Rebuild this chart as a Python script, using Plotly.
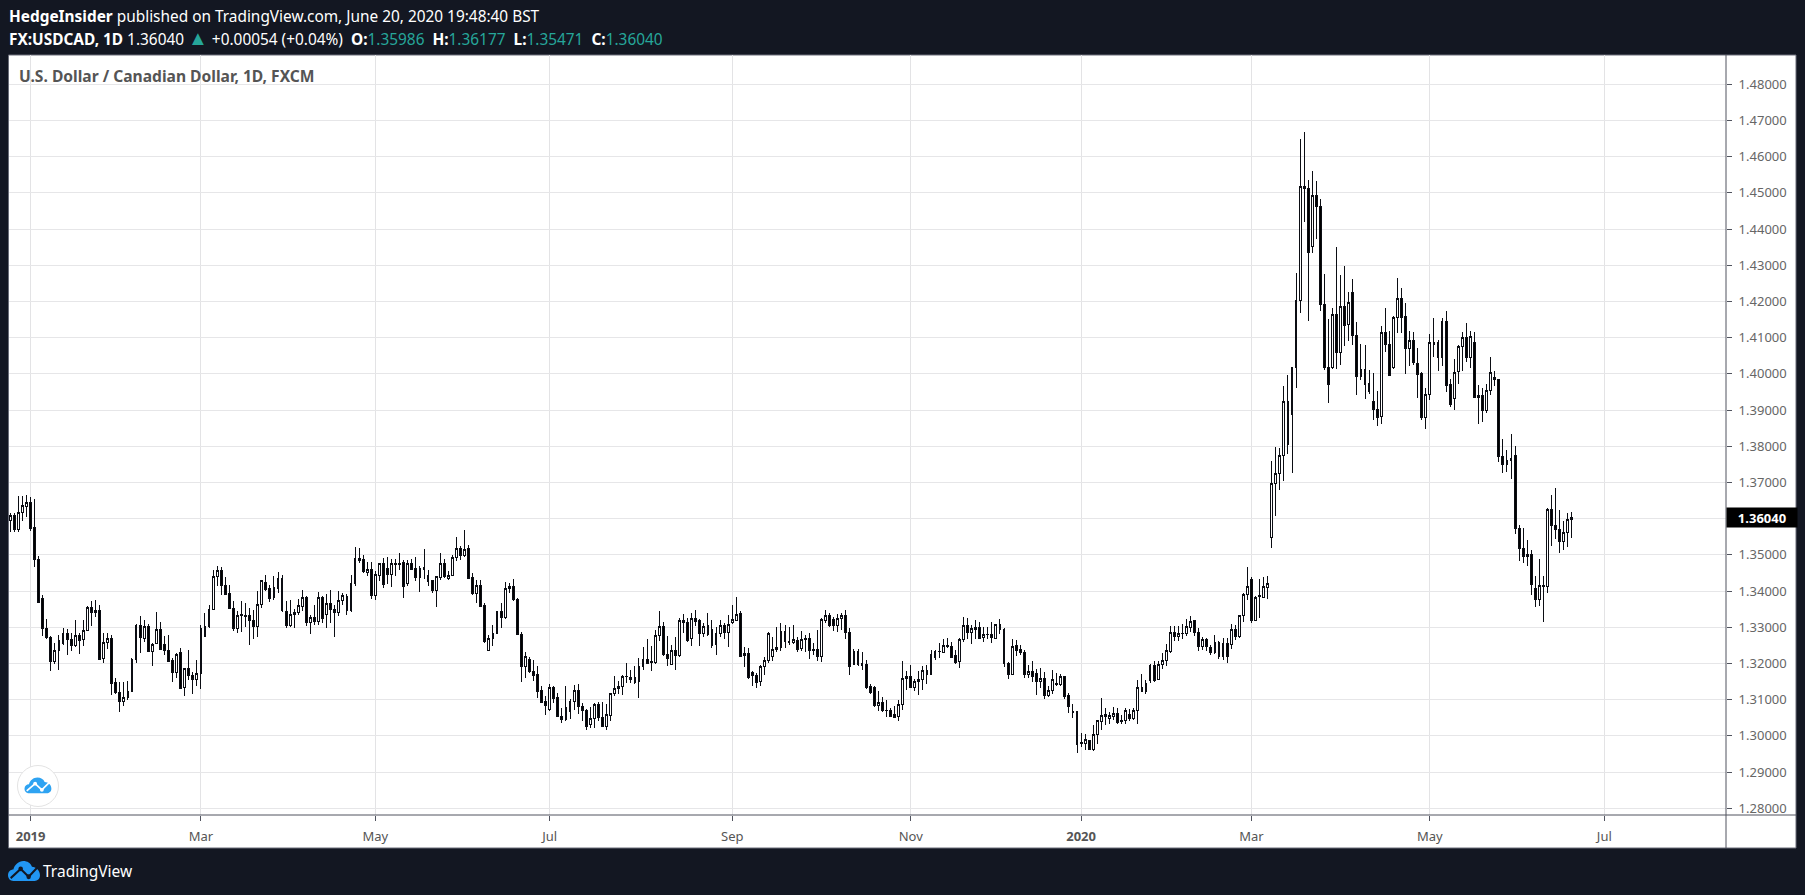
import base64

import pandas as pd
import plotly.graph_objects as go

# daily FX:USDCAD bars
opens = [
    1.3594, 1.3609, 1.3570, 1.3616, 1.3635, 1.3644, 1.3575, 1.3486, 1.3379, 1.3297,
    1.3272, 1.3206, 1.3235, 1.3254, 1.3283, 1.3266, 1.3251, 1.3278, 1.3265, 1.3291,
    1.3355, 1.3346, 1.3346, 1.3214, 1.3258, 1.3268, 1.3147, 1.3121, 1.3096, 1.3107,
    1.3123, 1.3210, 1.3306, 1.3268, 1.3301, 1.3232, 1.3254, 1.3294, 1.3252, 1.3236,
    1.3208, 1.3174, 1.3231, 1.3133, 1.3186, 1.3166, 1.3156, 1.3172, 1.3274, 1.3301,
    1.3348, 1.3441, 1.3457, 1.3416, 1.3394, 1.3353, 1.3298, 1.3332, 1.3334, 1.3333,
    1.3320, 1.3302, 1.3362, 1.3425, 1.3406, 1.3381, 1.3407, 1.3436, 1.3344, 1.3304,
    1.3336, 1.3342, 1.3358, 1.3383, 1.3313, 1.3328, 1.3316, 1.3383, 1.3336, 1.3366,
    1.3348, 1.3340, 1.3374, 1.3386, 1.3346, 1.3422, 1.3489, 1.3486, 1.3452, 1.3459,
    1.3388, 1.3444, 1.3476, 1.3462, 1.3446, 1.3473, 1.3477, 1.3478, 1.3422, 1.3476,
    1.3462, 1.3437, 1.3464, 1.3443, 1.3428, 1.3403, 1.3438, 1.3475, 1.3434, 1.3444,
    1.3494, 1.3519, 1.3499, 1.3519, 1.3438, 1.3394, 1.3416, 1.3359, 1.3237, 1.3268,
    1.3283, 1.3345, 1.3326, 1.3407, 1.3414, 1.3378, 1.3281, 1.3191, 1.3211, 1.3179,
    1.3169, 1.3125, 1.3095, 1.3074, 1.3133, 1.3106, 1.3054, 1.3044, 1.3068, 1.3094,
    1.3125, 1.3081, 1.3070, 1.3031, 1.3049, 1.3087, 1.3051, 1.3026, 1.3056, 1.3116,
    1.3130, 1.3137, 1.3163, 1.3162, 1.3162, 1.3149, 1.3191, 1.3211, 1.3206, 1.3202,
    1.3278, 1.3303, 1.3225, 1.3198, 1.3236, 1.3221, 1.3320, 1.3314, 1.3268, 1.3325,
    1.3318, 1.3284, 1.3304, 1.3293, 1.3252, 1.3282, 1.3306, 1.3285, 1.3313, 1.3320,
    1.3337, 1.3221, 1.3228, 1.3175, 1.3167, 1.3149, 1.3191, 1.3207, 1.3218, 1.3238,
    1.3243, 1.3289, 1.3262, 1.3257, 1.3264, 1.3241, 1.3268, 1.3268, 1.3239, 1.3240,
    1.3219, 1.3320, 1.3333, 1.3322, 1.3306, 1.3324, 1.3333, 1.3286, 1.3198, 1.3234,
    1.3200, 1.3197, 1.3137, 1.3134, 1.3085, 1.3092, 1.3071, 1.3070, 1.3060, 1.3053,
    1.3086, 1.3158, 1.3165, 1.3135, 1.3149, 1.3156, 1.3181, 1.3171, 1.3216, 1.3232,
    1.3231, 1.3250, 1.3248, 1.3222, 1.3205, 1.3266, 1.3306, 1.3285, 1.3293, 1.3300,
    1.3271, 1.3279, 1.3281, 1.3268, 1.3308, 1.3294, 1.3200, 1.3171, 1.3250, 1.3240,
    1.3231, 1.3171, 1.3178, 1.3173, 1.3149, 1.3158, 1.3113, 1.3125, 1.3145, 1.3143,
    1.3164, 1.3111, 1.3067, 1.3068, 1.2981, 1.2979, 1.2987, 1.2963, 1.3003, 1.3039,
    1.3059, 1.3049, 1.3055, 1.3062, 1.3043, 1.3042, 1.3058, 1.3047, 1.3069, 1.3133,
    1.3124, 1.3153, 1.3195, 1.3155, 1.3196, 1.3207, 1.3234, 1.3286, 1.3274, 1.3282,
    1.3282, 1.3300, 1.3318, 1.3286, 1.3248, 1.3267, 1.3244, 1.3231, 1.3258, 1.3218,
    1.3256, 1.3252, 1.3294, 1.3276, 1.3332, 1.3392, 1.3433, 1.3320, 1.3384, 1.3383,
    1.3410, 1.3549, 1.3697, 1.3725, 1.3775, 1.3925, 1.3888, 1.4017, 1.4203, 1.4518,
    1.4512, 1.4351, 1.4492, 1.4463, 1.4191, 1.4019, 1.4018, 1.4163, 1.4058, 1.4186,
    1.4136, 1.4225, 1.4106, 1.3993, 1.4012, 1.3973, 1.3925, 1.3903, 1.3882, 1.4114,
    1.4081, 1.4017, 1.4157, 1.4208, 1.4158, 1.4071, 1.4092, 1.4030, 1.4000, 1.3880,
    1.3943, 1.4080, 1.4086, 1.4044, 1.4144, 1.3970, 1.3932, 1.4007, 1.4075, 1.4100,
    1.4046, 1.4086, 1.3934, 1.3940, 1.3900, 1.3953, 1.3989, 1.3984, 1.3773, 1.3750,
    1.3761, 1.3775, 1.3572, 1.3519, 1.3500, 1.3500, 1.3408, 1.3378, 1.3416, 1.3414,
    1.3625, 1.3581, 1.3570, 1.3538, 1.3561, 1.35986,
]
highs = [
    1.3617, 1.3617, 1.3662, 1.3662, 1.3665, 1.3660, 1.3654, 1.3498, 1.3390, 1.3322,
    1.3276, 1.3258, 1.3279, 1.3297, 1.3294, 1.3283, 1.3320, 1.3283, 1.3320, 1.3358,
    1.3373, 1.3376, 1.3361, 1.3284, 1.3284, 1.3280, 1.3160, 1.3148, 1.3148, 1.3153,
    1.3214, 1.3309, 1.3331, 1.3320, 1.3309, 1.3256, 1.3342, 1.3314, 1.3275, 1.3280,
    1.3214, 1.3230, 1.3242, 1.3186, 1.3237, 1.3177, 1.3209, 1.3306, 1.3340, 1.3361,
    1.3459, 1.3469, 1.3467, 1.3440, 1.3418, 1.3373, 1.3346, 1.3373, 1.3367, 1.3352,
    1.3348, 1.3401, 1.3432, 1.3445, 1.3417, 1.3441, 1.3453, 1.3445, 1.3373, 1.3376,
    1.3350, 1.3378, 1.3404, 1.3387, 1.3333, 1.3361, 1.3398, 1.3387, 1.3392, 1.3404,
    1.3361, 1.3400, 1.3396, 1.3392, 1.3445, 1.3523, 1.3519, 1.3501, 1.3481, 1.3480,
    1.3455, 1.3478, 1.3492, 1.3494, 1.3490, 1.3489, 1.3506, 1.3487, 1.3487, 1.3489,
    1.3494, 1.3469, 1.3515, 1.3459, 1.3432, 1.3441, 1.3504, 1.3489, 1.3455, 1.3501,
    1.3550, 1.3524, 1.3568, 1.3528, 1.3450, 1.3432, 1.3432, 1.3367, 1.3280, 1.3306,
    1.3346, 1.3367, 1.3425, 1.3422, 1.3433, 1.3381, 1.3286, 1.3231, 1.3217, 1.3209,
    1.3194, 1.3137, 1.3110, 1.3144, 1.3139, 1.3118, 1.3078, 1.3137, 1.3103, 1.3142,
    1.3144, 1.3092, 1.3073, 1.3080, 1.3092, 1.3093, 1.3095, 1.3089, 1.3119, 1.3166,
    1.3151, 1.3168, 1.3201, 1.3183, 1.3192, 1.3214, 1.3246, 1.3268, 1.3249, 1.3293,
    1.3345, 1.3315, 1.3276, 1.3250, 1.3274, 1.3325, 1.3337, 1.3325, 1.3339, 1.3347,
    1.3323, 1.3311, 1.3339, 1.3320, 1.3300, 1.3320, 1.3311, 1.3334, 1.3362, 1.3385,
    1.3346, 1.3246, 1.3244, 1.3179, 1.3175, 1.3195, 1.3217, 1.3286, 1.3272, 1.3300,
    1.3311, 1.3306, 1.3302, 1.3306, 1.3274, 1.3289, 1.3279, 1.3284, 1.3257, 1.3293,
    1.3326, 1.3347, 1.3339, 1.3328, 1.3336, 1.3339, 1.3347, 1.3297, 1.3239, 1.3241,
    1.3233, 1.3211, 1.3144, 1.3139, 1.3123, 1.3107, 1.3098, 1.3076, 1.3083, 1.3100,
    1.3208, 1.3179, 1.3195, 1.3158, 1.3179, 1.3192, 1.3195, 1.3237, 1.3237, 1.3258,
    1.3269, 1.3271, 1.3260, 1.3237, 1.3271, 1.3328, 1.3325, 1.3306, 1.3320, 1.3316,
    1.3302, 1.3300, 1.3314, 1.3309, 1.3323, 1.3297, 1.3204, 1.3269, 1.3264, 1.3251,
    1.3237, 1.3195, 1.3206, 1.3186, 1.3187, 1.3176, 1.3137, 1.3181, 1.3175, 1.3170,
    1.3165, 1.3119, 1.3087, 1.3068, 1.3008, 1.3006, 1.2990, 1.3031, 1.3045, 1.3104,
    1.3076, 1.3067, 1.3079, 1.3078, 1.3058, 1.3076, 1.3074, 1.3078, 1.3154, 1.3172,
    1.3154, 1.3200, 1.3206, 1.3208, 1.3228, 1.3253, 1.3304, 1.3304, 1.3304, 1.3308,
    1.3323, 1.3331, 1.3320, 1.3297, 1.3272, 1.3270, 1.3250, 1.3279, 1.3261, 1.3270,
    1.3270, 1.3309, 1.3306, 1.3335, 1.3394, 1.3467, 1.3439, 1.3386, 1.3434, 1.3439,
    1.3443, 1.3759, 1.3798, 1.3794, 1.3966, 1.3998, 1.4019, 1.4278, 1.4650, 1.4667,
    1.4537, 1.4560, 1.4532, 1.4484, 1.4276, 1.4152, 1.4182, 1.4351, 1.4273, 1.4298,
    1.4226, 1.4262, 1.4143, 1.4082, 1.4079, 1.4012, 1.4003, 1.3952, 1.4131, 1.4181,
    1.4118, 1.4159, 1.4264, 1.4236, 1.4197, 1.4119, 1.4117, 1.4072, 1.4006, 1.3962,
    1.4109, 1.4155, 1.4095, 1.4155, 1.4173, 1.3987, 1.4041, 1.4079, 1.4115, 1.4140,
    1.4118, 1.4115, 1.3969, 1.3962, 1.3973, 1.4048, 1.4009, 1.3986, 1.3821, 1.3790,
    1.3834, 1.3802, 1.3584, 1.3574, 1.3541, 1.3514, 1.3441, 1.3488, 1.3441, 1.3630,
    1.3666, 1.3686, 1.3623, 1.3595, 1.3617, 1.36177,
]
lows = [
    1.3563, 1.3563, 1.3563, 1.3594, 1.3606, 1.3566, 1.3466, 1.3368, 1.3276, 1.3267,
    1.3180, 1.3198, 1.3182, 1.3251, 1.3223, 1.3234, 1.3245, 1.3226, 1.3248, 1.3291,
    1.3305, 1.3329, 1.3212, 1.3202, 1.3240, 1.3114, 1.3116, 1.3065, 1.3083, 1.3098,
    1.3120, 1.3202, 1.3229, 1.3259, 1.3231, 1.3192, 1.3254, 1.3240, 1.3223, 1.3205,
    1.3149, 1.3160, 1.3132, 1.3110, 1.3154, 1.3116, 1.3138, 1.3130, 1.3274, 1.3299,
    1.3347, 1.3413, 1.3390, 1.3389, 1.3351, 1.3290, 1.3285, 1.3286, 1.3300, 1.3250,
    1.3268, 1.3274, 1.3353, 1.3399, 1.3371, 1.3376, 1.3396, 1.3341, 1.3297, 1.3302,
    1.3297, 1.3335, 1.3344, 1.3304, 1.3282, 1.3306, 1.3306, 1.3313, 1.3297, 1.3313,
    1.3272, 1.3331, 1.3362, 1.3335, 1.3343, 1.3415, 1.3478, 1.3450, 1.3441, 1.3378,
    1.3376, 1.3429, 1.3408, 1.3419, 1.3410, 1.3443, 1.3459, 1.3380, 1.3413, 1.3457,
    1.3427, 1.3398, 1.3434, 1.3415, 1.3396, 1.3357, 1.3431, 1.3436, 1.3431, 1.3441,
    1.3482, 1.3487, 1.3494, 1.3436, 1.3390, 1.3366, 1.3355, 1.3258, 1.3237, 1.3247,
    1.3283, 1.3299, 1.3324, 1.3394, 1.3373, 1.3280, 1.3149, 1.3160, 1.3174, 1.3152,
    1.3105, 1.3091, 1.3059, 1.3069, 1.3091, 1.3051, 1.3037, 1.3042, 1.3047, 1.3071,
    1.3060, 1.3041, 1.3017, 1.3021, 1.3023, 1.3040, 1.3026, 1.3015, 1.3040, 1.3109,
    1.3117, 1.3113, 1.3147, 1.3147, 1.3143, 1.3105, 1.3182, 1.3198, 1.3180, 1.3200,
    1.3262, 1.3221, 1.3193, 1.3195, 1.3181, 1.3219, 1.3283, 1.3259, 1.3248, 1.3304,
    1.3248, 1.3273, 1.3276, 1.3244, 1.3223, 1.3274, 1.3269, 1.3246, 1.3309, 1.3318,
    1.3219, 1.3191, 1.3157, 1.3137, 1.3133, 1.3137, 1.3168, 1.3202, 1.3206, 1.3233,
    1.3235, 1.3243, 1.3252, 1.3254, 1.3231, 1.3234, 1.3232, 1.3213, 1.3223, 1.3207,
    1.3205, 1.3311, 1.3302, 1.3291, 1.3287, 1.3293, 1.3268, 1.3169, 1.3195, 1.3193,
    1.3181, 1.3130, 1.3117, 1.3080, 1.3069, 1.3067, 1.3053, 1.3051, 1.3049, 1.3041,
    1.3071, 1.3128, 1.3135, 1.3124, 1.3113, 1.3128, 1.3144, 1.3170, 1.3211, 1.3216,
    1.3228, 1.3243, 1.3214, 1.3200, 1.3187, 1.3260, 1.3268, 1.3254, 1.3269, 1.3268,
    1.3260, 1.3268, 1.3256, 1.3268, 1.3282, 1.3191, 1.3157, 1.3169, 1.3222, 1.3224,
    1.3160, 1.3160, 1.3149, 1.3112, 1.3133, 1.3102, 1.3107, 1.3117, 1.3137, 1.3138,
    1.3102, 1.3062, 1.3050, 1.2953, 1.2970, 1.2961, 1.2960, 1.2959, 1.2977, 1.3016,
    1.3030, 1.3032, 1.3043, 1.3032, 1.3032, 1.3033, 1.3042, 1.3044, 1.3033, 1.3120,
    1.3115, 1.3147, 1.3150, 1.3154, 1.3184, 1.3193, 1.3230, 1.3262, 1.3262, 1.3268,
    1.3276, 1.3287, 1.3277, 1.3234, 1.3237, 1.3234, 1.3223, 1.3226, 1.3213, 1.3210,
    1.3201, 1.3241, 1.3265, 1.3270, 1.3316, 1.3376, 1.3313, 1.3318, 1.3326, 1.3381,
    1.3379, 1.3518, 1.3608, 1.3680, 1.3705, 1.3779, 1.3727, 1.3960, 1.4167, 1.4421,
    1.4146, 1.4335, 1.4373, 1.4175, 1.4010, 1.3921, 1.4014, 1.4014, 1.4026, 1.4076,
    1.4091, 1.4080, 1.3943, 1.3984, 1.3932, 1.3944, 1.3873, 1.3856, 1.3862, 1.4061,
    1.3996, 1.4014, 1.4113, 1.4113, 1.4001, 1.4022, 1.4026, 1.3934, 1.3873, 1.3848,
    1.3928, 1.4048, 1.4007, 1.4022, 1.3949, 1.3908, 1.3899, 1.3971, 1.4007, 1.4032,
    1.4016, 1.3934, 1.3863, 1.3866, 1.3892, 1.3941, 1.3968, 1.3756, 1.3725, 1.3730,
    1.3711, 1.3558, 1.3484, 1.3478, 1.3469, 1.3389, 1.3356, 1.3358, 1.3316, 1.3396,
    1.3526, 1.3545, 1.3504, 1.3513, 1.3521, 1.35471,
]
closes = [
    1.3609, 1.3570, 1.3617, 1.3636, 1.3644, 1.3574, 1.3486, 1.3368, 1.3296, 1.3272,
    1.3206, 1.3236, 1.3264, 1.3283, 1.3265, 1.3251, 1.3278, 1.3263, 1.3292, 1.3355,
    1.3342, 1.3342, 1.3212, 1.3259, 1.3268, 1.3145, 1.3120, 1.3096, 1.3107, 1.3123,
    1.3211, 1.3306, 1.3271, 1.3301, 1.3234, 1.3253, 1.3294, 1.3240, 1.3236, 1.3206,
    1.3174, 1.3226, 1.3132, 1.3185, 1.3166, 1.3155, 1.3172, 1.3297, 1.3302, 1.3350,
    1.3441, 1.3456, 1.3415, 1.3392, 1.3351, 1.3298, 1.3332, 1.3336, 1.3329, 1.3318,
    1.3302, 1.3362, 1.3428, 1.3404, 1.3379, 1.3409, 1.3436, 1.3346, 1.3304, 1.3335,
    1.3341, 1.3360, 1.3381, 1.3313, 1.3328, 1.3316, 1.3383, 1.3324, 1.3366, 1.3348,
    1.3340, 1.3374, 1.3388, 1.3346, 1.3422, 1.3489, 1.3484, 1.3454, 1.3459, 1.3388,
    1.3445, 1.3476, 1.3419, 1.3446, 1.3476, 1.3477, 1.3473, 1.3412, 1.3476, 1.3459,
    1.3437, 1.3462, 1.3459, 1.3427, 1.3403, 1.3439, 1.3475, 1.3441, 1.3444, 1.3494,
    1.3519, 1.3498, 1.3516, 1.3436, 1.3394, 1.3416, 1.3357, 1.3261, 1.3268, 1.3282,
    1.3344, 1.3327, 1.3408, 1.3414, 1.3376, 1.3280, 1.3191, 1.3219, 1.3177, 1.3168,
    1.3124, 1.3093, 1.3085, 1.3133, 1.3104, 1.3053, 1.3044, 1.3078, 1.3094, 1.3125,
    1.3080, 1.3069, 1.3026, 1.3049, 1.3087, 1.3051, 1.3026, 1.3059, 1.3116, 1.3130,
    1.3137, 1.3164, 1.3165, 1.3157, 1.3148, 1.3192, 1.3211, 1.3199, 1.3202, 1.3278,
    1.3303, 1.3224, 1.3213, 1.3236, 1.3221, 1.3320, 1.3313, 1.3263, 1.3325, 1.3316,
    1.3284, 1.3303, 1.3281, 1.3251, 1.3283, 1.3306, 1.3285, 1.3308, 1.3322, 1.3336,
    1.3220, 1.3228, 1.3162, 1.3166, 1.3148, 1.3191, 1.3208, 1.3283, 1.3240, 1.3244,
    1.3289, 1.3260, 1.3259, 1.3265, 1.3240, 1.3267, 1.3266, 1.3235, 1.3235, 1.3218,
    1.3322, 1.3333, 1.3305, 1.3306, 1.3325, 1.3333, 1.3285, 1.3191, 1.3234, 1.3198,
    1.3195, 1.3134, 1.3120, 1.3085, 1.3092, 1.3069, 1.3069, 1.3053, 1.3052, 1.3087,
    1.3159, 1.3165, 1.3135, 1.3150, 1.3155, 1.3181, 1.3171, 1.3225, 1.3234, 1.3234,
    1.3250, 1.3246, 1.3216, 1.3204, 1.3266, 1.3306, 1.3285, 1.3297, 1.3299, 1.3270,
    1.3281, 1.3281, 1.3273, 1.3307, 1.3294, 1.3199, 1.3171, 1.3248, 1.3237, 1.3230,
    1.3171, 1.3178, 1.3165, 1.3149, 1.3158, 1.3113, 1.3125, 1.3155, 1.3143, 1.3164,
    1.3110, 1.3082, 1.3065, 1.2977, 1.2978, 1.2989, 1.2962, 1.3003, 1.3042, 1.3056,
    1.3054, 1.3056, 1.3061, 1.3038, 1.3040, 1.3070, 1.3047, 1.3070, 1.3133, 1.3122,
    1.3145, 1.3195, 1.3153, 1.3197, 1.3208, 1.3236, 1.3286, 1.3274, 1.3283, 1.3284,
    1.3303, 1.3317, 1.3285, 1.3248, 1.3267, 1.3248, 1.3231, 1.3258, 1.3218, 1.3256,
    1.3218, 1.3294, 1.3276, 1.3333, 1.3392, 1.3414, 1.3320, 1.3382, 1.3387, 1.3412,
    1.3422, 1.3697, 1.3725, 1.3775, 1.3925, 1.3806, 1.4017, 1.4203, 1.4518, 1.4511,
    1.4335, 1.4492, 1.4462, 1.4191, 1.4018, 1.3970, 1.4163, 1.4058, 1.4186, 1.4135,
    1.4197, 1.4105, 1.3994, 1.4012, 1.3971, 1.3952, 1.3901, 1.3880, 1.4114, 1.4080,
    1.3996, 1.4157, 1.4208, 1.4157, 1.4071, 1.4092, 1.4032, 1.3998, 1.3880, 1.3943,
    1.4086, 1.4086, 1.4044, 1.4144, 1.3969, 1.3915, 1.4005, 1.4075, 1.4100, 1.4046,
    1.4102, 1.3934, 1.3940, 1.3899, 1.3953, 1.4003, 1.3985, 1.3772, 1.3750, 1.3761,
    1.3766, 1.3572, 1.3518, 1.3496, 1.3496, 1.3418, 1.3378, 1.3416, 1.3414, 1.3625,
    1.3580, 1.3569, 1.3538, 1.3561, 1.3597, 1.36040,
]

tick_dates = ["2019-01-02", "2019-03-01", "2019-05-01", "2019-07-01", "2019-09-02",
              "2019-11-01", "2020-01-02", "2020-03-02", "2020-05-01", "2020-07-01"]
tick_labels = ["<b>2019</b>", "Mar", "May", "Jul", "Sep", "Nov", "<b>2020</b>", "Mar", "May", "Jul"]
price_ticks = [1.28 + i * 0.01 for i in range(21)]

# the feed has no bars on weekends, Christmas or New Year
days = pd.bdate_range("2018-12-24", "2020-08-31").drop(
    pd.to_datetime(["2018-12-25", "2019-01-01", "2019-12-25", "2020-01-01"]))
bar_x = list(range(len(closes)))
tick_x = [days.get_loc(pd.Timestamp(d)) for d in tick_dates]

W, H = 1805, 895
L, R, T, B = 9, 1726, 55, 815
DARK = "#131722"
AXIS = "#50535e"
TEAL = "#26a69a"


def px_x(px):
    return (px - L) / (R - L)


def px_y(px):
    return (B - px) / (B - T)


def to_uri(svg):
    return "data:image/svg+xml;base64," + base64.b64encode(svg.encode()).decode()


def cloud(fill, line):
    return (
        f'<path fill="{fill}" d="M8 28C3 28 0 24 0 20C0 15 4 12 8 12C10 5 16 0 23 0C29 0 34 3 36 8'
        f'C42 8 48 13 48 20C48 25 44 28 40 28Z"/>'
        f'<path fill="none" stroke="{line}" stroke-width="3" d="M4 24L19 11L31 22L44 9"/>'
        f'<circle cx="19" cy="11" r="3.4" fill="{line}"/><circle cx="31" cy="22" r="3.4" fill="{line}"/>'
    )


# small logo on the chart, with its round badge
badge_svg = (
    '<svg xmlns="http://www.w3.org/2000/svg" viewBox="0 0 84 84">'
    '<circle cx="42" cy="42" r="41" fill="#ffffff" stroke="#e3e3e3" stroke-width="2"/>'
    '<g transform="translate(15,25) scale(1.12)">' + cloud("#2ea3f2", "#ffffff") + '</g></svg>'
)
footer_svg = (
    '<svg xmlns="http://www.w3.org/2000/svg" viewBox="0 0 48 28">' + cloud("#2196f3", DARK) + '</svg>'
)

fig = go.Figure(go.Candlestick(
    x=bar_x, open=opens, high=highs, low=lows, close=closes,
    whiskerwidth=0,
    increasing=dict(fillcolor="#ffffff", line=dict(color="#0b0d13", width=1)),
    decreasing=dict(fillcolor="#000000", line=dict(color="#0b0d13", width=1)),
    hoverinfo="skip",
    showlegend=False,
))

GAP = "&nbsp;"
tri = f"<span style='color:{TEAL};font-size:20px'>▲</span>"
header1 = "<b>HedgeInsider</b> published on TradingView.com, June 20, 2020 19:48:40 BST"
header2 = (f"<b>FX:USDCAD, 1D</b> 1.36040 {tri} +0.00054 (+0.04%){GAP} "
           f"<b>O:</b><span style='color:{TEAL}'>1.35986</span>{GAP} "
           f"<b>H:</b><span style='color:{TEAL}'>1.36177</span>{GAP} "
           f"<b>L:</b><span style='color:{TEAL}'>1.35471</span>{GAP} "
           f"<b>C:</b><span style='color:{TEAL}'>1.36040</span>")

annotations = [
    dict(text=header1, x=px_x(7), y=px_y(16), font=dict(color="#ffffff", size=15.4)),
    dict(text=header2, x=px_x(7), y=px_y(38), font=dict(color="#ffffff", size=15.4)),
    dict(text="<b>U.S. Dollar / Canadian Dollar, 1D, FXCM</b>", x=px_x(17), y=px_y(76),
         font=dict(color="#555555", size=15.6)),
    dict(text="TradingView", x=px_x(41), y=px_y(871), font=dict(color="#ffffff", size=15.5)),
]
for a in annotations:
    a.update(xref="paper", yref="paper", xanchor="left", yanchor="middle", showarrow=False)
# last price tag on the scale
annotations.append(dict(
    text="<b>1.36040</b>", xref="paper", yref="y", x=1, y=closes[-1], xanchor="left", yanchor="middle",
    width=70, height=19, bgcolor="#000000", showarrow=False, align="center",
    font=dict(color="#ffffff", size=13), borderpad=0,
))

shapes = [
    # white chart panel, price scale and time scale included
    dict(type="rect", xref="paper", yref="paper", layer="below",
         x0=px_x(8.5), x1=px_x(1796), y0=px_y(848), y1=px_y(55),
         fillcolor="#ffffff", line=dict(color="#6a6d78", width=1)),
    dict(type="line", xref="paper", yref="paper", layer="above",
         x0=px_x(8.5), x1=px_x(1796), y0=0, y1=0, line=dict(color=AXIS, width=1)),
    dict(type="line", xref="paper", yref="paper", layer="above",
         x0=1, x1=1, y0=px_y(848), y1=1, line=dict(color=AXIS, width=1)),
]

images = [
    dict(source=to_uri(badge_svg), xref="paper", yref="paper", x=px_x(17), y=px_y(765),
         sizex=42 / (R - L), sizey=42 / (B - T), sizing="stretch", xanchor="left", yanchor="top", layer="above"),
    dict(source=to_uri(footer_svg), xref="paper", yref="paper", x=px_x(8), y=px_y(861),
         sizex=32 / (R - L), sizey=20 / (B - T), sizing="stretch", xanchor="left", yanchor="top", layer="above"),
]

fig.update_layout(
    width=W, height=H,
    margin=dict(l=L, r=W - R, t=T, b=H - B, pad=0),
    paper_bgcolor=DARK,
    plot_bgcolor="rgba(0,0,0,0)",
    font=dict(family="Noto Sans, Open Sans, sans-serif"),
    boxgap=0.35,
    dragmode=False,
    annotations=annotations,
    shapes=shapes,
    images=images,
)
fig.update_xaxes(
    rangeslider_visible=False,
    range=[(L - 10.3) / 4.056, (R - 10.3) / 4.056],
    tickmode="array", tickvals=tick_x, ticktext=tick_labels,
    showgrid=True, gridcolor="#e3e3e5", gridwidth=1, zeroline=False,
    ticks="outside", ticklen=5, tickcolor=AXIS, ticklabelstandoff=4,
    tickfont=dict(color="#555555", size=13),
    showline=False,
)
fig.update_yaxes(
    side="right",
    range=[1.27815, 1.4881],
    tickmode="array", tickvals=price_ticks,
    ticktext=["" if abs(v - 1.36) < 1e-9 else f"{v:.5f}" for v in price_ticks],
    showgrid=True, gridcolor="#e6e6e8", gridwidth=1, zeroline=False,
    ticks="outside", ticklen=5, tickcolor=AXIS, ticklabelstandoff=4,
    tickfont=dict(color="#666666", size=13),
    showline=False,
)

# body margin off, and hard pixel edges on the candles like the original canvas
page_js = (
    "document.body.style.margin='0';document.body.style.overflow='hidden';"
    "document.querySelectorAll('.boxlayer path').forEach(function(p){p.style.shapeRendering='crispEdges';});"
)
fig.write_html("out.html", config={"displayModeBar": False}, post_script=page_js)
